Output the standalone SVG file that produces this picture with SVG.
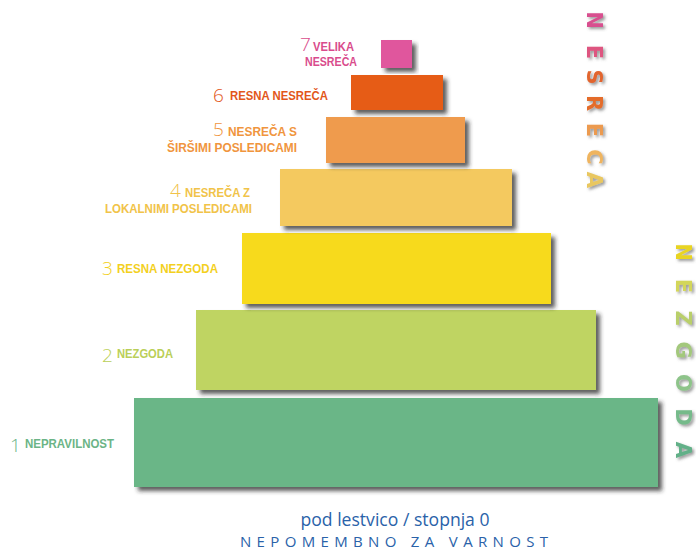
<svg xmlns="http://www.w3.org/2000/svg" width="696" height="552" viewBox="0 0 696 552">
<defs>
<filter id="sh" x="-10%" y="-10%" width="130%" height="130%">
<feDropShadow dx="4" dy="4" stdDeviation="2" flood-color="#2a2a2a" flood-opacity="0.75"/>
</filter>
<filter id="tsh" x="-30%" y="-30%" width="160%" height="160%">
<feDropShadow dx="2" dy="2" stdDeviation="1.4" flood-color="#555" flood-opacity="0.6"/>
</filter>
<style>
.lbl{font-family:"Liberation Sans Narrow","Liberation Sans","Noto Sans",sans-serif;font-weight:bold;font-size:12px}
.num{font-family:"Open Sans","Noto Sans","Liberation Sans",sans-serif;font-weight:300;font-size:19px}
.vert{font-family:"DejaVu Sans","Liberation Sans",sans-serif;font-weight:bold;font-size:21px}
.blue{fill:#2a62a9;font-family:"Liberation Sans Narrow","Open Sans","Liberation Sans",sans-serif}
</style>
</defs>
<rect width="696" height="552" fill="#ffffff"/>

<g id="level1">
<rect x="134" y="398" width="524" height="89" fill="#6bb687" filter="url(#sh)"/>
<text fill="#6bb486"><tspan x="10" y="452" class="num">1</tspan><tspan x="25" y="448" class="lbl" textLength="89" lengthAdjust="spacingAndGlyphs">NEPRAVILNOST</tspan></text>
</g>
<g id="level2">
<rect x="196" y="310" width="400" height="80" fill="#bfd462" filter="url(#sh)"/>
<text fill="#bacf58"><tspan x="102" y="362" class="num">2</tspan><tspan x="117" y="358" class="lbl" textLength="56" lengthAdjust="spacingAndGlyphs">NEZGODA</tspan></text>
</g>
<g id="level3">
<rect x="242" y="233" width="309" height="71" fill="#f7da1e" filter="url(#sh)"/>
<text fill="#f3d01e"><tspan x="102" y="275" class="num">3</tspan><tspan x="117" y="273" class="lbl" textLength="101" lengthAdjust="spacingAndGlyphs">RESNA NEZGODA</tspan></text>
</g>
<g id="level4">
<rect x="280" y="169" width="232" height="57" fill="#f4c95e" filter="url(#sh)"/>
<text fill="#f1c349"><tspan x="170" y="196.5" class="num">4</tspan><tspan x="185" y="197" class="lbl" textLength="65" lengthAdjust="spacingAndGlyphs">NESREČA Z</tspan><tspan x="105" y="213" class="lbl" textLength="147" lengthAdjust="spacingAndGlyphs">LOKALNIMI POSLEDICAMI</tspan></text>
</g>
<g id="level5">
<rect x="326" y="117" width="139" height="46" fill="#ef9b4d" filter="url(#sh)"/>
<text fill="#f0953e"><tspan x="213" y="135.5" class="num">5</tspan><tspan x="228" y="136" class="lbl" textLength="69" lengthAdjust="spacingAndGlyphs">NESREČA S</tspan><tspan x="167" y="152" class="lbl" textLength="130" lengthAdjust="spacingAndGlyphs">ŠIRŠIMI POSLEDICAMI</tspan></text>
</g>
<g id="level6">
<rect x="351" y="75" width="92" height="35" fill="#e65c12" filter="url(#sh)"/>
<text fill="#e2571a"><tspan x="213" y="102" class="num">6</tspan><tspan x="230" y="100" class="lbl" textLength="98" lengthAdjust="spacingAndGlyphs">RESNA NESREČA</tspan></text>
</g>
<g id="level7">
<rect x="381" y="40" width="31" height="28" fill="#e0579d" filter="url(#sh)"/>
<text fill="#d94c8c"><tspan x="300" y="51" class="num">7</tspan><tspan x="313" y="51" class="lbl" textLength="41" lengthAdjust="spacingAndGlyphs">VELIKA</tspan><tspan x="305" y="66" class="lbl" textLength="52" lengthAdjust="spacingAndGlyphs">NESREČA</tspan></text>
</g>

<g id="nesreca-vertical" filter="url(#tsh)">
<text class="vert" transform="translate(587,0) rotate(90)" text-anchor="middle"><tspan x="20" y="0" fill="#d8508f">N</tspan><tspan x="52" y="0" fill="#de5580">E</tspan><tspan x="77" y="0" fill="#e2652e">S</tspan><tspan x="103" y="0" fill="#e46c2a">R</tspan><tspan x="130" y="0" fill="#ec9a4f">E</tspan><tspan x="157" y="0" fill="#efb45e">C</tspan><tspan x="180" y="0" fill="#e9c760">A</tspan></text>
</g>
<g id="nezgoda-vertical" filter="url(#tsh)">
<text class="vert" transform="translate(676,0) rotate(90)" text-anchor="middle"><tspan x="252" y="0" fill="#e8d424">N</tspan><tspan x="286" y="0" fill="#d3d65a">E</tspan><tspan x="318" y="0" fill="#b9cf6a">Z</tspan><tspan x="350" y="0" fill="#a3c87c">G</tspan><tspan x="383" y="0" fill="#8ec48a">O</tspan><tspan x="417" y="0" fill="#74ba8a">D</tspan><tspan x="450" y="0" fill="#62b088">A</tspan></text>
</g>

<g id="below-scale">
<text x="395" y="526" class="blue" font-size="18" text-anchor="middle" textLength="189" lengthAdjust="spacingAndGlyphs">pod lestvico / stopnja 0</text>
<text x="240" y="547" class="blue" font-size="15" textLength="308" lengthAdjust="spacing">NEPOMEMBNO ZA VARNOST</text>
</g>
</svg>
